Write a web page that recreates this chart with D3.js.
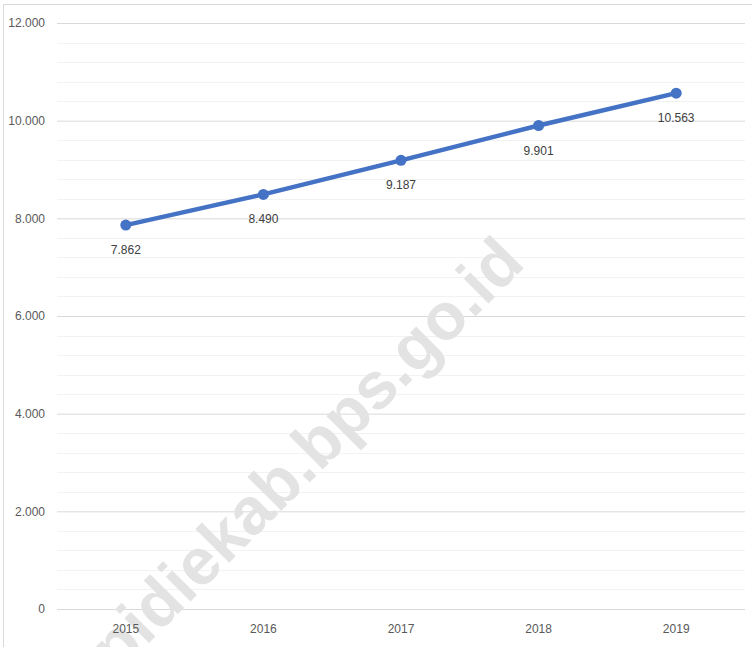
<!DOCTYPE html>
<html>
<head>
<meta charset="utf-8">
<script src="https://cdn.jsdelivr.net/npm/d3@7"></script>
<style>
  body { margin: 0; background: #fff; }
  text { font-family: "Liberation Sans", Arial, sans-serif; }
</style>
</head>
<body>
<script>
var years = ['2015', '2016', '2017', '2018', '2019'];
var values = [7862, 8490, 9187, 9901, 10563];
var yTicks = [0, 2000, 4000, 6000, 8000, 10000, 12000];
var minorTicks = d3.range(0, 12001, 400);

var width = 752, height = 647;
var margin = { left: 57, right: 7, top: 23, bottom: 38 };

var svg = d3.select("body").append("svg")
      .attr("width", width)
      .attr("height", height);

// chart frame
svg.append("rect")
      .attr("x", 3.5).attr("y", 4.5)
      .attr("width", width + 10).attr("height", height + 10)
      .attr("fill", "none")
      .attr("stroke", "#d9d9d9");

var x = d3.scaleBand()
      .domain(years)
      .range([margin.left, width - margin.right]);

var y = d3.scaleLinear()
      .domain([0, 12000])
      .range([height - margin.bottom, margin.top]);

// minor gridlines
svg.selectAll("line.minor")
      .data(minorTicks.filter(function (d) { return d % 2000 !== 0; }))
      .enter().append("line")
      .attr("class", "minor")
      .attr("x1", margin.left).attr("x2", width - margin.right)
      .attr("y1", function (d) { return Math.round(y(d)) + 0.5; })
      .attr("y2", function (d) { return Math.round(y(d)) + 0.5; })
      .attr("stroke", "#f2f2f2");

// y axis with major gridlines
var yAxis = d3.axisLeft(y)
      .tickValues(yTicks)
      .tickSize(-(width - margin.left - margin.right))
      .tickPadding(12)
      .tickFormat(function (d) { return d === 0 ? "0" : d3.format(",")(d).replace(/,/g, "."); });

var gy = svg.append("g")
      .attr("transform", "translate(" + margin.left + ",0)")
      .call(yAxis);
gy.select(".domain").remove();
gy.selectAll(".tick line").attr("stroke", "#d9d9d9");
gy.selectAll(".tick text")
      .attr("fill", "#595959")
      .attr("font-family", "'Liberation Sans', Arial, sans-serif")
      .attr("font-size", "12px");

// watermark (under the labels)
svg.append("text")
      .attr("transform", "translate(322,470) rotate(-45)")
      .attr("text-anchor", "middle")
      .attr("font-weight", "bold")
      .attr("font-size", "66px")
      .attr("fill", "#e3e3e3")
      .text("pidiekab.bps.go.id");

// x axis labels
var xAxis = d3.axisBottom(x).tickSize(0).tickPadding(15);
var gx = svg.append("g")
      .attr("transform", "translate(0," + (height - margin.bottom) + ")")
      .call(xAxis);
gx.select(".domain").remove();
gx.selectAll(".tick text")
      .attr("fill", "#595959")
      .attr("font-family", "'Liberation Sans', Arial, sans-serif")
      .attr("font-size", "12px");

var cx = function (d, i) { return x(years[i]) + x.bandwidth() / 2; };

var line = d3.line()
      .x(function (d, i) { return cx(d, i); })
      .y(function (d) { return y(d); });

svg.append("path")
      .datum(values)
      .attr("d", line)
      .attr("fill", "none")
      .attr("stroke", "#4472c4")
      .attr("stroke-width", 4.5)
      .attr("stroke-linecap", "round");

svg.selectAll("circle.pt")
      .data(values)
      .enter().append("circle")
      .attr("class", "pt")
      .attr("cx", cx)
      .attr("cy", function (d) { return y(d); })
      .attr("r", 5.5)
      .attr("fill", "#4472c4");

svg.selectAll("text.lbl")
      .data(values)
      .enter().append("text")
      .attr("class", "lbl")
      .attr("x", cx)
      .attr("y", function (d) { return y(d) + 29; })
      .attr("text-anchor", "middle")
      .attr("font-size", "12px")
      .attr("fill", "#404040")
      .text(function (d) { return d3.format(",")(d).replace(/,/g, "."); });
</script>
</body>
</html>
